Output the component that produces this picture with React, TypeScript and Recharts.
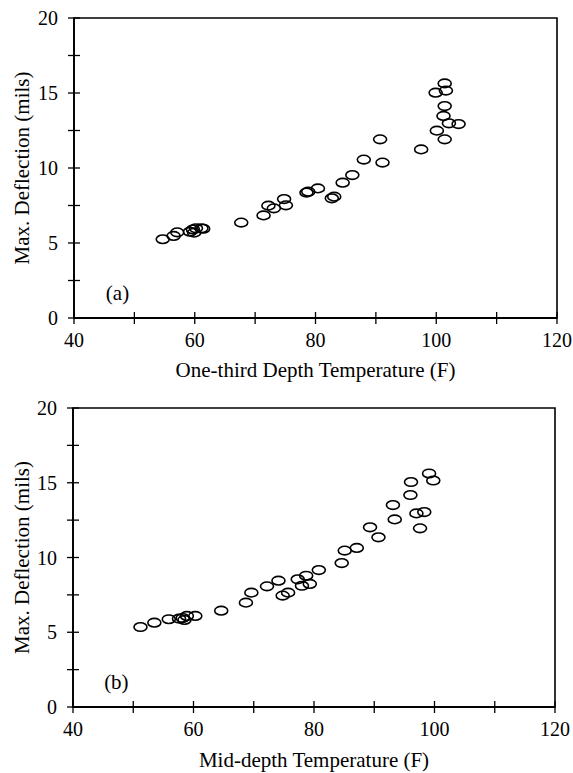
import React from 'react';
import { ScatterChart, Scatter, XAxis, YAxis, ReferenceArea, ReferenceDot } from 'recharts';

// (a) one-third depth temperature vs max deflection
const tempA = [54.7, 56.5, 57.1, 59.2, 59.7, 59.9, 60.2, 61.1, 61.4, 67.7, 71.4, 72.2, 73.1, 74.8, 75.1, 78.5, 78.8, 80.4, 82.7, 83.1, 84.5, 86.1, 88.0, 90.7, 91.1, 97.5, 100.1, 101.4, 101.2, 102.1, 103.7, 101.4, 99.9, 101.6, 101.4];
const deflA = [5.25, 5.47, 5.71, 5.75, 5.9, 5.69, 5.98, 5.98, 5.95, 6.36, 6.84, 7.49, 7.31, 7.93, 7.51, 8.36, 8.42, 8.64, 7.98, 8.09, 9.02, 9.53, 10.56, 11.91, 10.36, 11.24, 12.49, 11.91, 13.47, 12.98, 12.93, 14.13, 15.02, 15.16, 15.64];

// (b) mid-depth temperature vs max deflection
const tempB = [51.2, 53.5, 55.9, 57.6, 58.2, 58.5, 58.9, 60.3, 64.6, 68.7, 69.6, 72.2, 74.1, 74.8, 75.7, 77.3, 78.0, 78.7, 79.3, 80.8, 84.6, 85.1, 87.1, 89.3, 90.7, 93.1, 93.4, 96.0, 96.1, 97.0, 98.3, 97.6, 99.1, 99.8];
const deflB = [5.35, 5.64, 5.87, 5.91, 5.95, 5.82, 6.09, 6.09, 6.44, 6.98, 7.65, 8.07, 8.45, 7.45, 7.65, 8.54, 8.11, 8.78, 8.23, 9.16, 9.63, 10.46, 10.64, 12.02, 11.35, 13.51, 12.55, 14.18, 15.05, 12.95, 13.04, 11.95, 15.62, 15.15];

const xTicks = [40, 50, 60, 70, 80, 90, 100, 110, 120];
const yTicks = [0, 2.5, 5, 7.5, 10, 12.5, 15, 17.5, 20];

const FONT = '"Liberation Serif", "Times New Roman", serif';
const txt = { fontFamily: FONT, fill: '#000' };

const XTick = (props: any) => {
  const { x, y, payload } = props;
  return (
    <g>
      <line x1={x} x2={x} y1={y - 6} y2={y + 6} stroke="#000" strokeWidth={1.3} />
      {payload.value % 20 === 0 && (
        <text x={x} y={y + 29} textAnchor="middle" fontSize={20} style={txt}>
          {payload.value}
        </text>
      )}
    </g>
  );
};

const YTick = (props: any) => {
  const { x, y, payload } = props;
  return (
    <g>
      <line x1={x - 6} x2={x + 6} y1={y} y2={y} stroke="#000" strokeWidth={1.3} />
      {payload.value % 5 === 0 && (
        <text x={x - 16} y={y + 7} textAnchor="end" fontSize={20} style={txt}>
          {payload.value}
        </text>
      )}
    </g>
  );
};

const Ring = (props: any) => (
  <ellipse cx={props.cx} cy={props.cy} rx={6.5} ry={4.3} fill="none" stroke="#000" strokeWidth={1.6} />
);

const Panel: React.FC<{
  temps: number[];
  defls: number[];
  tag: string;
  xTitle: string;
  height: number;
  margin: { top: number; right: number; left: number; bottom: number };
  yWidth: number;
  xHeight: number;
}> = ({ temps, defls, tag, xTitle, height, margin, yWidth, xHeight }) => {
  const data = temps.map((t, i) => ({ t, d: defls[i] }));
  return (
    <ScatterChart width={573} height={height} margin={margin}>
      <XAxis
        type="number"
        dataKey="t"
        domain={[40, 120]}
        ticks={xTicks}
        interval={0}
        tickSize={0}
        tickMargin={0}
        tickLine={false}
        tick={<XTick />}
        height={xHeight}
        axisLine={{ stroke: '#000', strokeWidth: 1.8 }}
        label={{ value: xTitle, position: 'insideBottom', offset: 0, fontSize: 21, style: txt }}
      />
      <YAxis
        type="number"
        dataKey="d"
        domain={[0, 20]}
        ticks={yTicks}
        interval={0}
        tickSize={0}
        tickMargin={0}
        tickLine={false}
        tick={<YTick />}
        width={yWidth}
        axisLine={{ stroke: '#000', strokeWidth: 1.8 }}
        label={{
          value: 'Max. Deflection (mils)',
          angle: -90,
          position: 'insideLeft',
          offset: 22,
          fontSize: 21,
          style: { ...txt, textAnchor: 'middle' },
        }}
      />
      <ReferenceArea x1={40} x2={120} y1={0} y2={20} fill="none" stroke="#000" strokeWidth={1.6} ifOverflow="visible" />
      <ReferenceDot
        x={47.2}
        y={1.7}
        r={0}
        fill="none"
        stroke="none"
        label={{ value: tag, position: 'center', fontSize: 21, style: txt }}
      />
      <Scatter data={data} shape={<Ring />} isAnimationActive={false} />
    </ScatterChart>
  );
};

export default function App() {
  return (
    <div style={{ position: 'absolute', left: 0, top: 0, width: 573, height: 773, background: '#fff' }}>
      <Panel
        temps={tempA}
        defls={deflA}
        tag="(a)"
        xTitle="One-third Depth Temperature (F)"
        height={386}
        margin={{ top: 18, right: 16, left: 0, bottom: 9 }}
        yWidth={74}
        xHeight={59}
      />
      <Panel
        temps={tempB}
        defls={deflB}
        tag="(b)"
        xTitle="Mid-depth Temperature (F)"
        height={387}
        margin={{ top: 22, right: 18, left: 0, bottom: 6 }}
        yWidth={73}
        xHeight={60}
      />
    </div>
  );
}
